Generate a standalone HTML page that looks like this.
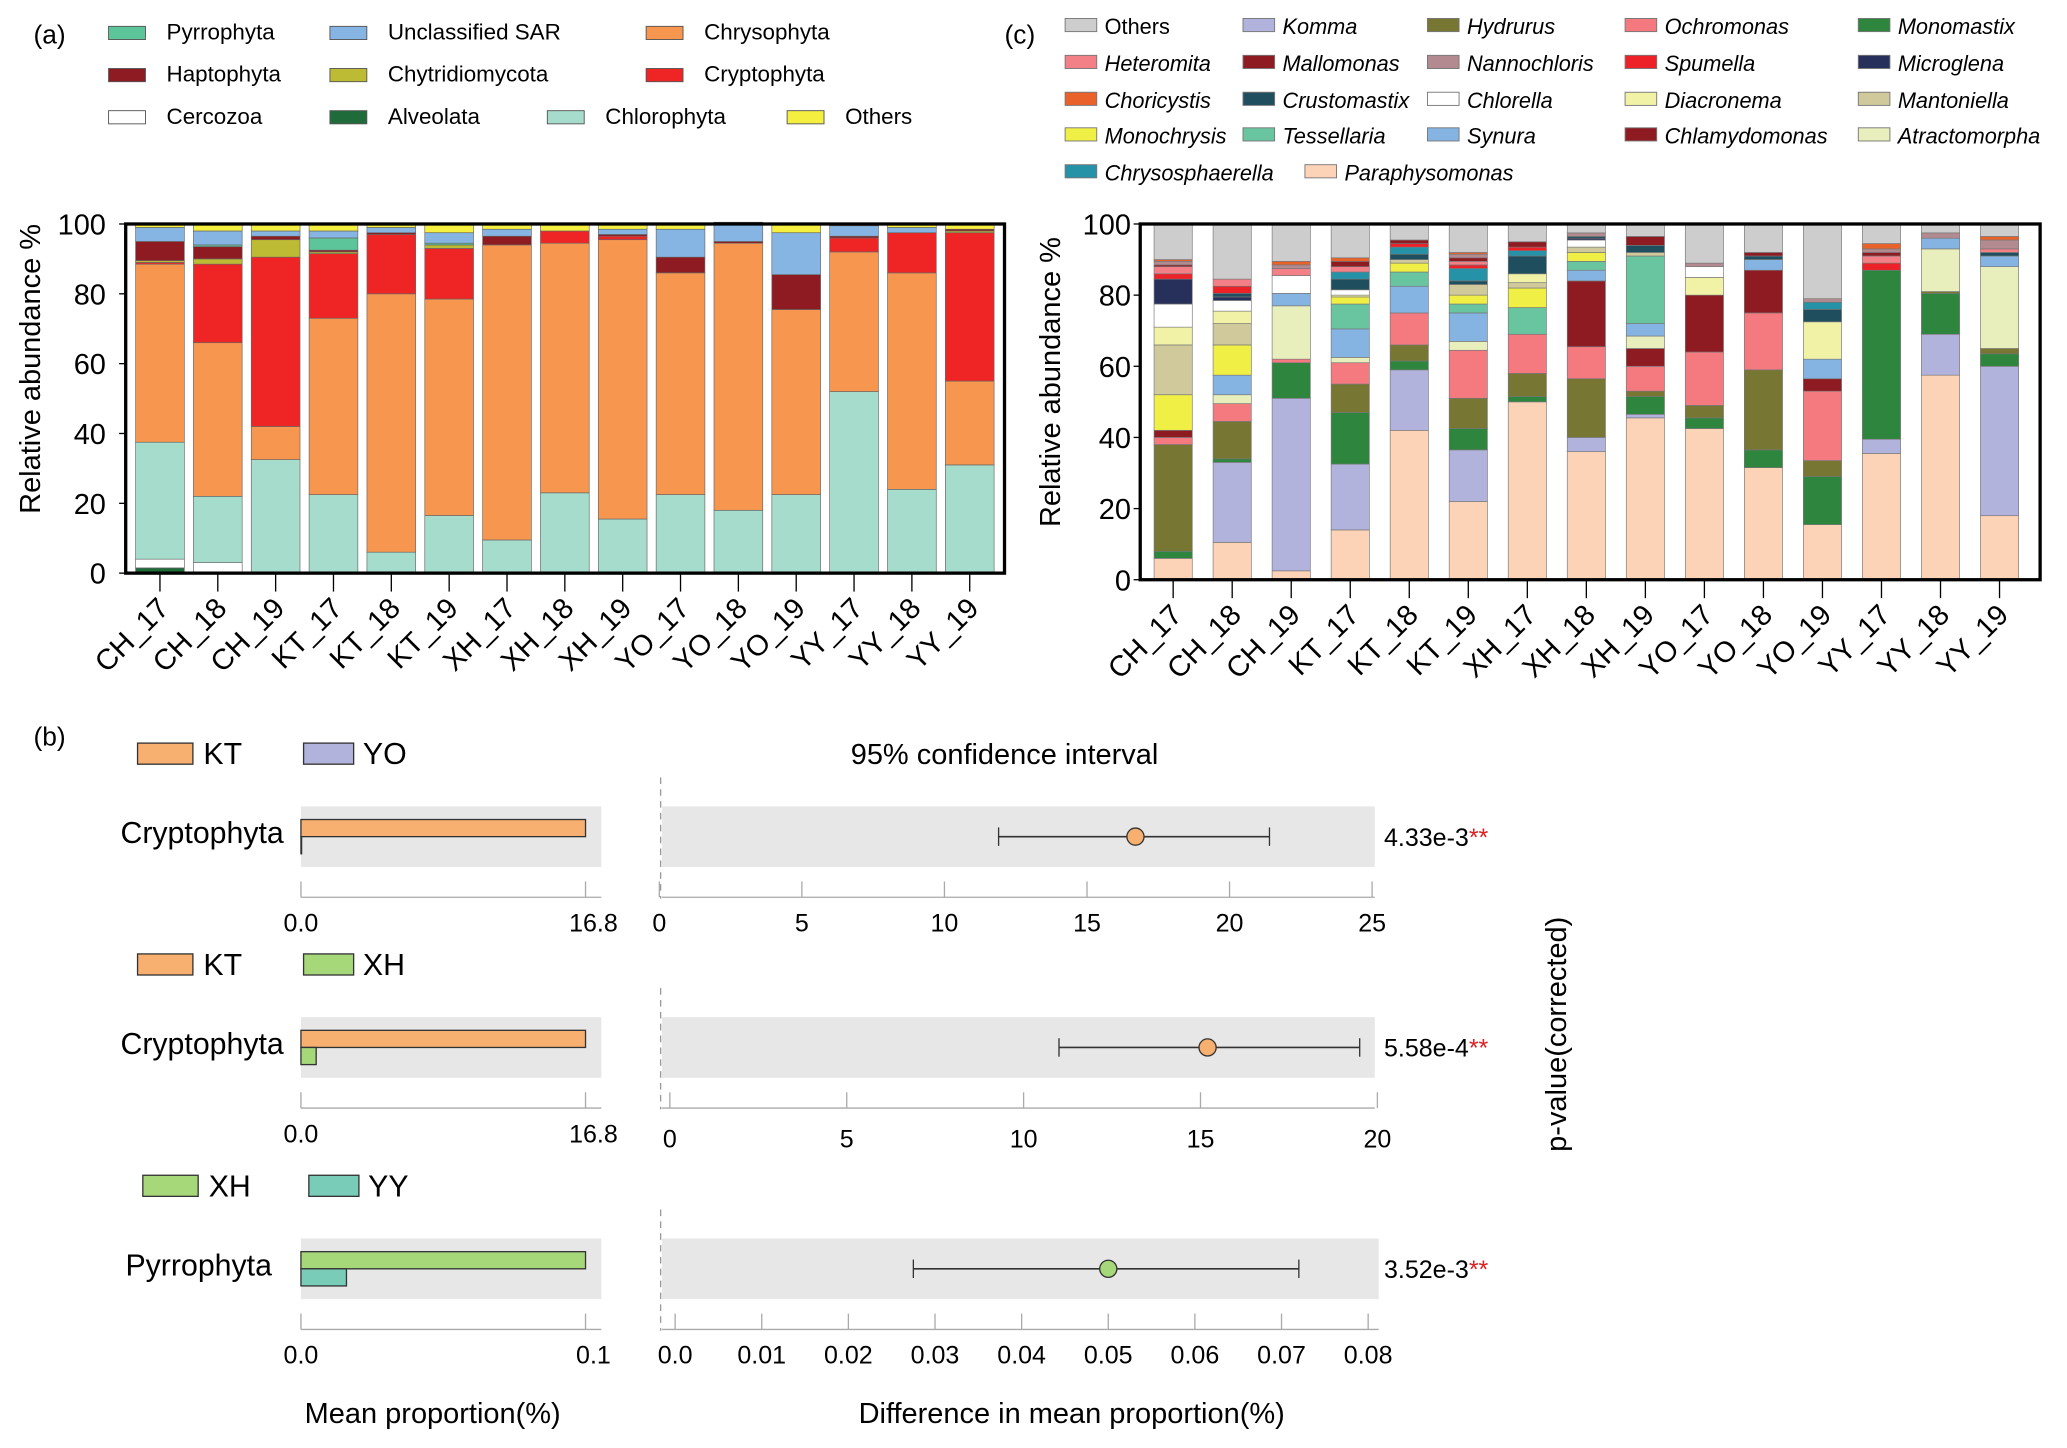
<!DOCTYPE html>
<html><head><meta charset="utf-8"><style>
html,body{margin:0;padding:0;background:#fff;}
svg{display:block;font-family:"Liberation Sans Narrow","Liberation Sans",sans-serif;}
</style></head><body>
<svg id="fig" width="2067" height="1448" viewBox="0 0 1568 1099" xmlns="http://www.w3.org/2000/svg">
<g id="ga"></g>
<g id="gc"></g>
<g id="gb"></g>
</svg>
<script>
// ---------- Panel A data ----------
const samples = ["CH_17","CH_18","CH_19","KT_17","KT_18","KT_19","XH_17","XH_18","XH_19","YO_17","YO_18","YO_19","YY_17","YY_18","YY_19"];
const phylaA = ["Alveolata","Cercozoa","Chlorophyta","Chrysophyta","Cryptophyta","Chytridiomycota","Haptophyta","Pyrrophyta","Unclassified SAR","Others"];
const colorsA = ["#1f6b3a","#ffffff","#a6dccb","#f7964f","#ee2524","#bcbb33","#8e1b21","#5cc69a","#86b5e3","#f5ef3f"];
const alveolata = [1.5,0,0,0,0,0,0,0,0,0,0,0,0,0,0];
const cercozoa = [2.5,3,0,0,0,0,0,0,0,0,0,0,0,0,0];
const chlorophyta = [33.5,19,32.5,22.5,6,16.5,9.5,23,15.5,22.5,18,22.5,52,24,31];
const chrysophyta = [51,44,9.5,50.5,74,62,84.5,71.5,80,63.5,76.5,53,40,62,24];
const cryptophyta = [0.5,22.5,48.5,18.5,17,14.5,0,3.5,1,0,0,0,4,11.5,42.5];
const chytridiomycota = [0.5,1.5,5,0.5,0,1,0,0,0,0,0,0,0,0,0.5];
const haptophyta = [5.5,3.5,1,0.5,0.5,0,2.5,0,0.5,4.5,0.5,10,0.5,0,0.5];
const pyrrophyta = [0,0.5,0,3.5,0,0.5,0,0,0,0,0,0,0,0,0];
const unclassSAR = [4,4,1.5,2,1.5,3,2,0,1.5,8,5,12,3,1.5,0];
const othersA = [1,2,2,2,1,2.5,1.5,2,1.5,1.5,0.5,2.5,0.5,1,1.5];
const seriesA = [alveolata,cercozoa,chlorophyta,chrysophyta,cryptophyta,chytridiomycota,haptophyta,pyrrophyta,unclassSAR,othersA];
const ticksY = [0,20,40,60,80,100];

// ---------- Panel C data ----------
const genera = ["Paraphysomonas","Komma","Monomastix","Hydrurus","Ochromonas","Chlamydomonas","Atractomorpha","Synura","Tessellaria","Monochrysis","Mantoniella","Diacronema","Chlorella","Microglena","Crustomastix","Chrysosphaerella","Spumella","Heteromita","Mallomonas","Nannochloris","Choricystis","Others"];
const colorsC = ["#fdd3b8","#b1b3dd","#2e853e","#777632","#f57a80","#8f1b22","#e8efbc","#85b4e2","#68c5a0","#f0ef45","#cfc99b","#f2f2a6","#ffffff","#27305a","#1f4f5e","#2592a8","#ec2228","#f38086","#8f1b22","#b28a8f","#e8622a","#cdcdcd"];
const paraphysomonas = [6,10.5,2.5,14,42,22,50,36,45.5,42.5,31.5,15.5,35.5,57.5,18];
const komma = [0,22.5,48.5,18.5,17,14.5,0,4,1,0,0,0,4,11.5,42];
const monomastix = [2,1,10,14.5,2.5,6,1.5,0,5,3,5,13.5,47.5,11.5,3.5];
const hydrurus = [30,10.5,0,8,4.5,8.5,6.5,16.5,1.5,3.5,22.5,4.5,0,0.5,1.5];
const ochromonas = [2,5,1,6,9,13.5,11,9,7,15,16,19.5,0,0,0];
const chlamydomonas = [2,0,0,0,0,0,0,18.5,5,16,12,3.5,0,0,0];
const atractomorpha = [0,2.5,15,1.5,0,2.5,0,0,3.5,0,0,0,0,12,23];
const synura = [0,5.5,3.5,8,7.5,8,0,3,3.5,0,3,5.5,0,3,3];
const tessellaria = [0,0,0,7,4,2.5,7.5,2.5,19,0,0,0,0,0,0];
const monochrysis = [10,8.5,0,2,2.5,2.5,5.5,2.5,0,0,0,0,0,0,0];
const mantoniella = [14,6,0,0,1,3,1.5,1.5,1,0,0,0,0,0,0];
const diacronema = [5,3.5,0,0.5,0,0,2.5,0,0,5,0,10.5,0,0,0];
const chlorella = [6.5,3,5,1.5,0,0,0,2,0,3,0,0,0,0,0];
const microglena = [7,1,0,0,0,0,0,0.5,0,0,0,0,0,0,0];
const crustomastix = [0,1,0,3,1.5,1,5,0.5,2,0,1,3.5,0,0,1];
const chrysosphaerella = [0,0,0,2,2,3.5,1.5,0,0,0,0,2,0,0,0];
const spumella = [1.5,2,0,0,1,1,1,0,0,0,0,0,2,0,0];
const heteromita = [2,2,2,1.5,0,1,0,0,0,0,0,0,2,0,1];
const mallomonas = [0.5,0,0,1.5,1,1,1.5,0,2.5,0,1,0,1,0,0];
const nannochloris = [1,0,1,0,0,1,0,1,0,1,0,1,1,1.5,2.5];
const choricystis = [0.5,0,1,1,0,0.5,0,0,0,0,0,0,1.5,0,1];
const othersC = [10,15.5,10.5,9.5,4.5,8,5,2.5,3.5,11,8,21,5.5,2.5,3.5];
const seriesC = [paraphysomonas,komma,monomastix,hydrurus,ochromonas,chlamydomonas,atractomorpha,synura,tessellaria,monochrysis,mantoniella,diacronema,chlorella,microglena,crustomastix,chrysosphaerella,spumella,heteromita,mallomonas,nannochloris,choricystis,othersC];

// ---------- Panel B data ----------
const bTaxa = ["Cryptophyta","Cryptophyta","Pyrrophyta"];
const bGroups = [["KT","YO"],["KT","XH"],["XH","YY"]];
const bGroupColors = [["#f7b070","#b1b3dd"],["#f7b070","#a6d87a"],["#a6d87a","#79cdb8"]];
const bMean1 = [16.8,16.8,0.1];
const bMean2 = [0,0.9,0.016];
const bMeanMax = [16.8,16.8,0.1];
const bMeanTickLabels = [["0.0","16.8"],["0.0","16.8"],["0.0","0.1"]];
const bDiff = [16.7,15.2,0.050];
const bLo = [11.9,11.0,0.0275];
const bHi = [21.4,19.5,0.072];
const bPvals = ["4.33e-3","5.58e-4","3.52e-3"];
const bDiffTicks = [[0,5,10,15,20,25],[0,5,10,15,20],[0,0.01,0.02,0.03,0.04,0.05,0.06,0.07,0.08]];
const bDiffTickLabels = [["0","5","10","15","20","25"],["0","5","10","15","20"],["0.0","0.01","0.02","0.03","0.04","0.05","0.06","0.07","0.08"]];

const NS="http://www.w3.org/2000/svg";
function mk(parent,tag,attrs,text){const e=document.createElementNS(NS,tag);for(const k in attrs)e.setAttribute(k,attrs[k]);if(text!==undefined)e.textContent=text;parent.appendChild(e);return e;}

// ---------- Panel A ----------
const ga=document.getElementById('ga');
let t=mk(ga,'text',{x:25,y:33,'font-size':20},'(a)');


const legA=[[7,82,20],[8,250,20],[3,490,20],[6,82,52],[5,250,52],[4,490,52],[1,82,84],[0,250,84],[2,415,84],[9,597,84]];
legA.forEach(l=>{const g=mk(ga,'g',{});


mk(g,'rect',{x:l[1],y:l[2],width:28,height:10,fill:colorsA[l[0]],stroke:'#555','stroke-width':0.7});
mk(g,'text',{x:l[1]+44,y:l[2]+10,'font-size':17},phylaA[l[0]]);});
const ax0=95,ax1=762,ay0=435,ay1=170;
const yA=v=>ay0-(v/100)*(ay0-ay1);
const xA=i=>121+i*43.9;
ticksY.forEach(v=>{const tt=mk(ga,'text',{x:80,y:yA(v)+8,'font-size':22,'text-anchor':'end'},String(v));


mk(ga,'line',{x1:ax0-5,x2:ax0,y1:yA(v),y2:yA(v),stroke:'#000','stroke-width':1});});
t=mk(ga,'text',{x:0,y:0,'font-size':22,'text-anchor':'middle',transform:'translate(30,280) rotate(-90)'},'Relative abundance %');


samples.forEach((s,i)=>{let cum=0;const x=xA(i);
seriesA.forEach((ser,k)=>{const v=ser[i];if(v<=0){return;}
const r=mk(ga,'rect',{x:x-18.5,y:yA(cum+v),width:37,height:yA(cum)-yA(cum+v),fill:colorsA[k],stroke:'#666','stroke-width':0.5});


cum+=v;});
mk(ga,'line',{x1:x,x2:x,y1:ay0,y2:ay0+14,stroke:'#000','stroke-width':1});
const lab=mk(ga,'text',{x:0,y:0,'font-size':22,'text-anchor':'end',transform:`translate(${x+8},${ay0+28}) rotate(-45)`},s);

});
mk(ga,'rect',{x:ax0,y:ay1,width:ax1-ax0,height:ay0-ay1,fill:'none',stroke:'#000','stroke-width':2.5});

// ---------- Panel C ----------
const gc=document.getElementById('gc');
t=mk(gc,'text',{x:762,y:33,'font-size':20},'(c)');


const legC=[["Others",808,14],["Komma",943,14],["Hydrurus",1083,14],["Ochromonas",1233,14],["Monomastix",1410,14],
["Heteromita",808,42],["Mallomonas",943,42],["Nannochloris",1083,42],["Spumella",1233,42],["Microglena",1410,42],
["Choricystis",808,70],["Crustomastix",943,70],["Chlorella",1083,70],["Diacronema",1233,70],["Mantoniella",1410,70],
["Monochrysis",808,97],["Tessellaria",943,97],["Synura",1083,97],["Chlamydomonas",1233,97],["Atractomorpha",1410,97],
["Chrysosphaerella",808,125],["Paraphysomonas",990,125]];
legC.forEach(l=>{const k=genera.indexOf(l[0]);const g=mk(gc,'g',{});


mk(g,'rect',{x:l[1],y:l[2],width:24,height:10,fill:colorsC[k],stroke:'#777','stroke-width':0.7});
mk(g,'text',{x:l[1]+30,y:l[2]+12,'font-size':16.5,'font-style':l[0]==='Others'?'normal':'italic'},l[0]);});
const cx0=865,cx1=1548,cy0=440,cy1=170;
const yC=v=>cy0-(v/100)*(cy0-cy1);
const xC=i=>890+i*44.8;
ticksY.forEach(v=>{const tt=mk(gc,'text',{x:858,y:yC(v)+8,'font-size':22,'text-anchor':'end'},String(v));


mk(gc,'line',{x1:cx0-5,x2:cx0,y1:yC(v),y2:yC(v),stroke:'#000','stroke-width':1});});
t=mk(gc,'text',{x:0,y:0,'font-size':22,'text-anchor':'middle',transform:'translate(804,290) rotate(-90)'},'Relative abundance %');


samples.forEach((s,i)=>{let cum=0;const x=xC(i);
seriesC.forEach((ser,k)=>{const v=ser[i];if(v<=0){return;}
const r=mk(gc,'rect',{x:x-14.5,y:yC(cum+v),width:29,height:yC(cum)-yC(cum+v),fill:colorsC[k],stroke:'#777','stroke-width':0.5});


cum+=v;});
mk(gc,'line',{x1:x,x2:x,y1:cy0,y2:cy0+14,stroke:'#000','stroke-width':1});
const lab=mk(gc,'text',{x:0,y:0,'font-size':22,'text-anchor':'end',transform:`translate(${x+8},${cy0+28}) rotate(-45)`},s);

});
mk(gc,'rect',{x:cx0,y:cy1,width:cx1-cx0,height:cy0-cy1,fill:'none',stroke:'#000','stroke-width':2.5});

// ---------- Panel B ----------
const gb=document.getElementById('gb');
t=mk(gb,'text',{x:25,y:566,'font-size':20},'(b)');


t=mk(gb,'text',{x:762,y:580,'font-size':22,'text-anchor':'middle'},'95% confidence interval');


const tops=[560,720,888];
const diffX=[[500,1041],[508,1045],[512,1038]];
const panelRight=[1043,1043,1046];
tops.forEach((T,p)=>{
 const g=mk(gb,'g',{});
 
 
 const lx=p===2?108:104;
 mk(g,'rect',{x:lx,y:T+4,width:42,height:16,fill:bGroupColors[p][0],stroke:'#333','stroke-width':1});
 mk(g,'text',{x:lx+50,y:T+20,'font-size':23},bGroups[p][0]);
 mk(g,'rect',{x:lx+126,y:T+4,width:38,height:16,fill:bGroupColors[p][1],stroke:'#333','stroke-width':1});
 mk(g,'text',{x:lx+171,y:T+20,'font-size':23},bGroups[p][1]);
 const py=T+52;
 mk(g,'rect',{x:228,y:py,width:228,height:46,fill:'#e7e7e7'});
 const mx=v=>228+(v/bMeanMax[p])*216;
 const b1=mk(g,'rect',{x:228,y:py+10,width:mx(bMean1[p])-228,height:13,fill:bGroupColors[p][0],stroke:'#333','stroke-width':1});
 
 
 const b2=mk(g,'rect',{x:228,y:py+23,width:Math.max(0.5,mx(bMean2[p])-228),height:13,fill:bGroupColors[p][1],stroke:'#333','stroke-width':1});
 
 
 mk(g,'text',{x:p===2?206:215,y:py+28,'font-size':23,'text-anchor':'end'},bTaxa[p]);
 const axY=py+69;
 mk(g,'line',{x1:228,x2:456,y1:axY,y2:axY,stroke:'#aaa','stroke-width':1});
 [0,bMeanMax[p]].forEach((v,j)=>{mk(g,'line',{x1:mx(v),x2:mx(v),y1:axY-12,y2:axY,stroke:'#aaa','stroke-width':1});
  mk(g,'text',{x:mx(v)+(j?6:0),y:axY+26,'font-size':19,'text-anchor':'middle'},bMeanTickLabels[p][j]);});
 const d0=diffX[p][0],d1=diffX[p][1],dmax=bDiffTicks[p][bDiffTicks[p].length-1];
 const dx=v=>d0+(v/dmax)*(d1-d0);
 mk(g,'rect',{x:502,y:py,width:panelRight[p]-502,height:46,fill:'#e7e7e7'});
 mk(g,'line',{x1:501,x2:501,y1:py-22,y2:py+70,stroke:'#999','stroke-width':1,'stroke-dasharray':'5,4'});
 const cy=py+23;
 const ci=mk(g,'line',{x1:dx(bLo[p]),x2:dx(bHi[p]),y1:cy,y2:cy,stroke:'#333','stroke-width':1.2});
 
 
 mk(g,'line',{x1:dx(bLo[p]),x2:dx(bLo[p]),y1:cy-7,y2:cy+7,stroke:'#333','stroke-width':1});
 mk(g,'line',{x1:dx(bHi[p]),x2:dx(bHi[p]),y1:cy-7,y2:cy+7,stroke:'#333','stroke-width':1});
 const pt=mk(g,'circle',{cx:dx(bDiff[p]),cy:cy,r:6.5,fill:bGroupColors[p][0],stroke:'#333','stroke-width':1});
 
 
 const pv=mk(g,'text',{x:1050,y:py+30,'font-size':19},bPvals[p]);
 
 
 mk(pv,'tspan',{fill:'#e02020'},'**');
 mk(g,'line',{x1:502,x2:panelRight[p],y1:axY,y2:axY,stroke:'#aaa','stroke-width':1});
 bDiffTicks[p].forEach((v,j)=>{mk(g,'line',{x1:dx(v),x2:dx(v),y1:axY-12,y2:axY,stroke:'#aaa','stroke-width':1});
  mk(g,'text',{x:dx(v),y:axY+(p===1?30:26),'font-size':19,'text-anchor':'middle'},bDiffTickLabels[p][j]);});
});
t=mk(gb,'text',{x:328,y:1080,'font-size':22,'text-anchor':'middle'},'Mean proportion(%)');


t=mk(gb,'text',{x:813,y:1080,'font-size':22,'text-anchor':'middle'},'Difference in mean proportion(%)');


t=mk(gb,'text',{x:0,y:0,'font-size':22,'text-anchor':'middle',transform:'translate(1188,785) rotate(-90)'},'p-value(corrected)');


</script>
</body></html>
